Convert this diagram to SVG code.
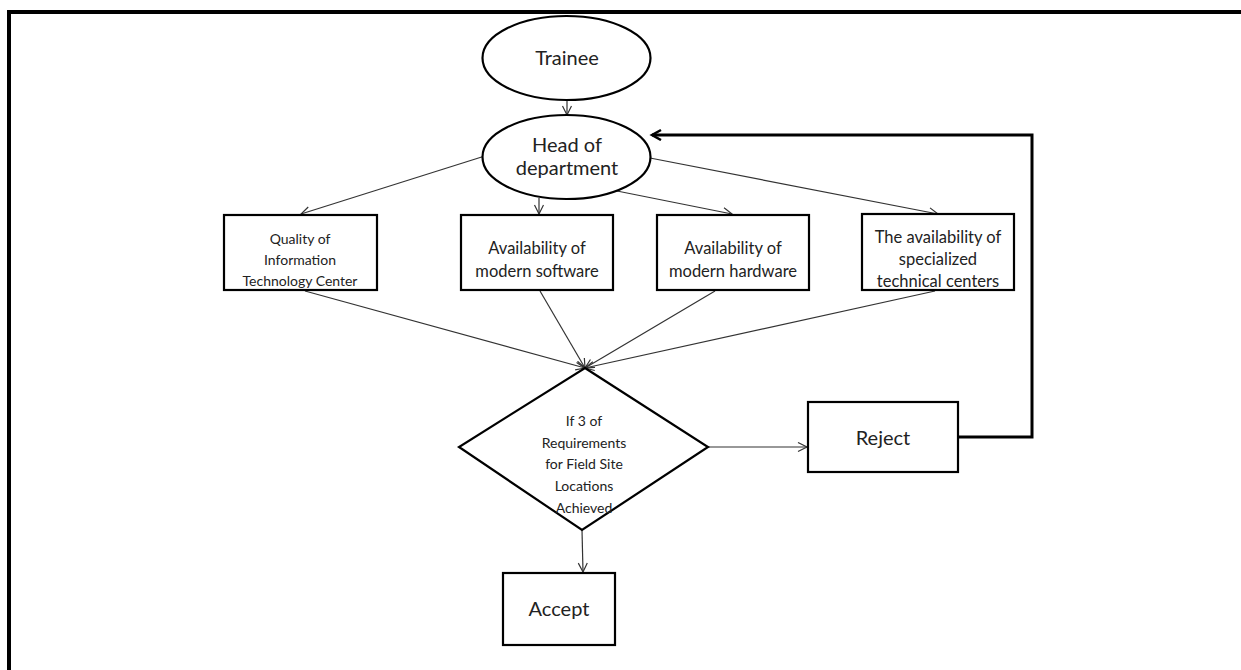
<svg xmlns="http://www.w3.org/2000/svg" width="1241" height="670" viewBox="0 0 1241 670">
<style>
.shape{fill:#fff;stroke:#000;stroke-width:2.2}
.t{font-family:Lato,"Open Sans","Liberation Sans",sans-serif;fill:#222;text-anchor:middle}
.big{font-size:20px}
.mid{font-size:16.5px}
.sm{font-size:14px}
.c{fill:none;stroke:#333;stroke-width:1.2;marker-end:url(#a)}
.fb{fill:none;stroke:#000;stroke-width:3;marker-end:url(#a2)}
</style>
<defs>
<marker id="a" markerWidth="12" markerHeight="12" refX="10" refY="5" orient="auto" markerUnits="userSpaceOnUse">
<path d="M1,0.5 L10,5 L1,9.5" fill="none" stroke="#333" stroke-width="1.2"/>
</marker>
<marker id="a2" markerWidth="14" markerHeight="14" refX="11" refY="6" orient="auto" markerUnits="userSpaceOnUse">
<path d="M2,1 L11,6 L2,11" fill="none" stroke="#000" stroke-width="2.5"/>
</marker>
</defs>
<rect width="1241" height="670" fill="#fff"/>
<g id="frame">
<line x1="7" y1="12" x2="1241" y2="12" stroke="#000" stroke-width="4"/>
<line x1="9" y1="10" x2="9" y2="670" stroke="#000" stroke-width="4"/>
</g>
<g id="connectors">
<line class="c" x1="567" y1="100" x2="567" y2="115"/>
<line class="c" x1="488" y1="155" x2="301" y2="214"/>
<line class="c" x1="539" y1="198" x2="539" y2="214"/>
<line class="c" x1="612" y1="190" x2="732" y2="214"/>
<line class="c" x1="650" y1="158" x2="938" y2="214"/>
<line class="c" x1="305" y1="291" x2="585" y2="368"/>
<line class="c" x1="540" y1="291" x2="585" y2="368"/>
<line class="c" x1="715" y1="291" x2="585" y2="368"/>
<line class="c" x1="935" y1="291" x2="585" y2="368"/>
<line class="c" x1="708" y1="447" x2="807" y2="447"/>
<line class="c" x1="582" y1="530" x2="583" y2="572"/>
<polyline class="fb" points="959,437 1032,437 1032,135 652,135"/>
</g>
<g id="trainee">
<ellipse class="shape" cx="566.5" cy="58" rx="84" ry="42"/>
<text class="t big" x="567" y="65">Trainee</text>
</g>
<g id="head">
<ellipse class="shape" cx="566.5" cy="157" rx="84" ry="42"/>
<text class="t big" x="567" y="152">Head of</text>
<text class="t big" x="567" y="175">department</text>
</g>
<g id="box1">
<rect class="shape" x="224" y="215" width="153" height="75"/>
<text class="t sm" x="300" y="244">Quality of</text>
<text class="t sm" x="300" y="265">Information</text>
<text class="t sm" x="300" y="286">Technology Center</text>
</g>
<g id="box2">
<rect class="shape" x="461" y="215" width="152" height="75"/>
<text class="t mid" x="537" y="254">Availability of</text>
<text class="t mid" x="537" y="277">modern software</text>
</g>
<g id="box3">
<rect class="shape" x="657" y="215" width="152" height="75"/>
<text class="t mid" x="733" y="254">Availability of</text>
<text class="t mid" x="733" y="277">modern hardware</text>
</g>
<g id="box4">
<rect class="shape" x="862" y="214" width="152" height="76"/>
<text class="t mid" x="938" y="243">The availability of</text>
<text class="t mid" x="938" y="265">specialized</text>
<text class="t mid" x="938" y="287">technical centers</text>
</g>
<g id="decision">
<polygon class="shape" points="585,368 708,447 582,530 459,447"/>
<text class="t sm" x="584" y="426">If 3 of</text>
<text class="t sm" x="584" y="448">Requirements</text>
<text class="t sm" x="584" y="469">for Field Site</text>
<text class="t sm" x="584" y="491">Locations</text>
<text class="t sm" x="584" y="513">Achieved</text>
</g>
<g id="reject">
<rect class="shape" x="808" y="402" width="150" height="70"/>
<text class="t big" x="883" y="445">Reject</text>
</g>
<g id="accept">
<rect class="shape" x="503" y="573" width="112" height="72"/>
<text class="t big" x="559" y="616">Accept</text>
</g>
</svg>
